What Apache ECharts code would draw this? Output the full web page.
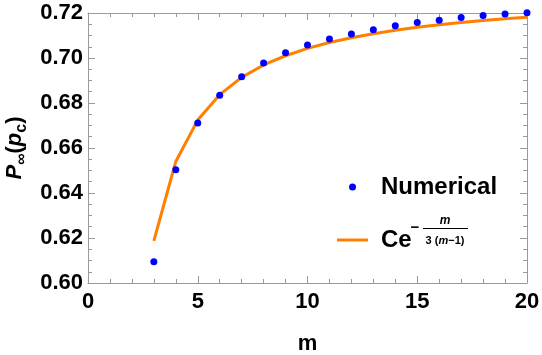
<!DOCTYPE html>
<html>
<head>
<meta charset="utf-8">
<script src="https://cdn.jsdelivr.net/npm/echarts@6/dist/echarts.min.js"></script>
<style>
  html, body { margin: 0; padding: 0; background: #fff; }
  #chart { width: 542px; height: 355px; }
</style>
</head>
<body>
<div id="chart"></div>
<script>
// m values (x)
const mValues = [3, 4, 5, 6, 7, 8, 9, 10, 11, 12, 13, 14, 15, 16, 17, 18, 19, 20]
// blue dots
const numerical = [0.6095, 0.6503, 0.6711, 0.6834, 0.6917, 0.6978, 0.7023, 0.7058, 0.7085,
  0.7107, 0.7126, 0.7143, 0.7158, 0.7168, 0.7180, 0.7189, 0.7196, 0.7201]
// orange curve
const fitCurve = [0.6187, 0.6540, 0.6724, 0.6837, 0.6914, 0.6969, 0.7010, 0.7043, 0.7069,
  0.7090, 0.7108, 0.7123, 0.7137, 0.7148, 0.7158, 0.7167, 0.7174, 0.7181]

const FONT = "'Liberation Sans', Arial, sans-serif"
const AXIS_GRAY = '#9a9a9a'

let chart = echarts.init(document.getElementById('chart'))

function pairs(ys) {
    return mValues.map((m, i) => [m, ys[i]])
}

const xBase = {
    type: 'value',
    min: 0,
    max: 20,
    interval: 5,
    axisLine: { show: true, onZero: false, lineStyle: { color: AXIS_GRAY, width: 1 } },
    axisTick: { show: true, inside: true, length: 7, lineStyle: { color: AXIS_GRAY } },
    minorTick: { show: true, splitNumber: 5, length: 4, lineStyle: { color: AXIS_GRAY } },
    splitLine: { show: false }
}
const yBase = {
    type: 'value',
    min: 0.60,
    max: 0.72,
    interval: 0.02,
    axisLine: { show: true, onZero: false, lineStyle: { color: AXIS_GRAY, width: 1 } },
    axisTick: { show: true, inside: true, length: 7, lineStyle: { color: AXIS_GRAY } },
    minorTick: { show: true, splitNumber: 4, length: 4, lineStyle: { color: AXIS_GRAY } },
    splitLine: { show: false }
}

let config = {
    animation: false,
    backgroundColor: '#fff',
    grid: { left: 88, right: 15, top: 13, bottom: 72, containLabel: false, outerBoundsMode: 'none' },
    xAxis: [
        Object.assign({}, xBase, {
            position: 'bottom',
            name: 'm',
            nameLocation: 'middle',
            nameGap: 50,
            nameTextStyle: { fontFamily: FONT, fontWeight: 'bold', fontSize: 22, color: '#000' },
            axisLabel: { show: true, margin: 8, fontFamily: FONT, fontWeight: 'bold', fontSize: 22, color: '#000' }
        }),
        Object.assign({}, xBase, { position: 'top', axisLabel: { show: false } })
    ],
    yAxis: [
        Object.assign({}, yBase, {
            position: 'left',
            name: '{b|P}{s|∞}{b2|(}{i|p}{s|c}{b2|)}',
            nameLocation: 'middle',
            nameRotate: 90,
            nameGap: 58,
            nameTextStyle: {
                rich: {
                    b: { fontFamily: FONT, fontWeight: 'bold', fontStyle: 'italic', fontSize: 22, lineHeight: 28, color: '#000' },
                    b2: { fontFamily: FONT, fontWeight: 'bold', fontSize: 22, lineHeight: 28, color: '#000' },
                    i: { fontFamily: FONT, fontWeight: 'bold', fontStyle: 'italic', fontSize: 22, lineHeight: 28, color: '#000' },
                    s: { fontFamily: FONT, fontWeight: 'bold', fontSize: 16, lineHeight: 17, verticalAlign: 'bottom', color: '#000' }
                }
            },
            axisLabel: {
                show: true, margin: 5, fontFamily: FONT, fontWeight: 'bold', fontSize: 22, color: '#000',
                formatter: v => v.toFixed(2)
            }
        }),
        Object.assign({}, yBase, { position: 'right', axisLabel: { show: false } })
    ],
    legend: {
        orient: 'vertical',
        left: 332,
        top: 169,
        padding: 5,
        itemWidth: 31,
        itemHeight: 7,
        itemGap: 27,
        data: [
            { name: 'Numerical', icon: 'circle' },
            { name: 'fit', icon: 'path://M0,0L31,0L31,3L0,3Z' }
        ],
        formatter: name => name === 'fit' ? 'Ce' : name,
        textStyle: {
            fontFamily: FONT, fontWeight: 'bold', fontSize: 24, lineHeight: 26, color: '#000',
            padding: [0, 0, 0, 8]
        }
    },
    graphic: [
        { type: 'text', x: 415, y: 228, style: { text: '−', font: 'bold 15px ' + FONT, fill: '#000', align: 'center', verticalAlign: 'middle' } },
        { type: 'text', x: 445, y: 221, style: { text: 'm', font: 'italic bold 12px ' + FONT, fill: '#000', align: 'center', verticalAlign: 'middle' } },
        { type: 'line', shape: { x1: 423, y1: 228.5, x2: 468, y2: 228.5 }, style: { stroke: '#000', lineWidth: 1.2 } },
        {
            type: 'text', x: 445, y: 241,
            style: {
                text: '{n|3 (}{i|m}{n|−1)}',
                align: 'center',
                verticalAlign: 'middle',
                rich: {
                    n: { font: 'bold 11px ' + FONT, fill: '#000' },
                    i: { font: 'italic bold 11px ' + FONT, fill: '#000' }
                }
            }
        }
    ],
    series: [
        {
            name: 'fit',
            type: 'line',
            xAxisIndex: 0,
            yAxisIndex: 0,
            symbol: 'none',
            lineStyle: { color: '#ff7f00', width: 3 },
            itemStyle: { color: '#ff7f00' },
            data: pairs(fitCurve),
            z: 2
        },
        {
            name: 'Numerical',
            type: 'scatter',
            xAxisIndex: 0,
            yAxisIndex: 0,
            symbol: 'circle',
            symbolSize: 7,
            clip: false,
            itemStyle: { color: '#0000ff', opacity: 1 },
            data: pairs(numerical),
            z: 3
        }
    ]
}
config && chart.setOption(config)
window.addEventListener('resize', () => chart.resize())
</script>
</body>
</html>
